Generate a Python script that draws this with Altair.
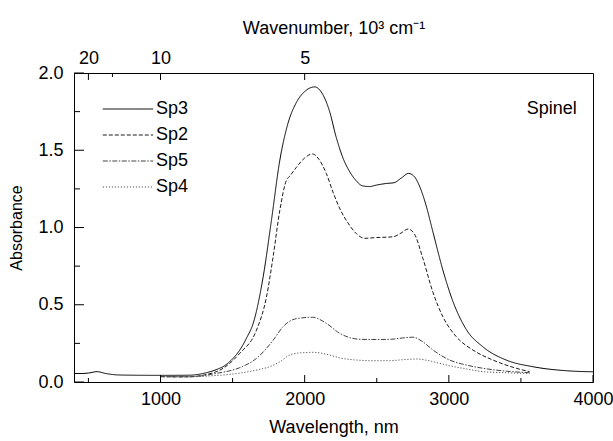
import altair as alt
import pandas as pd

# ---- data ----
sp3_nm = [400, 450, 500, 560, 620, 700, 800, 1000, 1200, 1300, 1400, 1435, 1500, 1550, 1600, 1643,
          1712, 1770, 1828, 1880, 1943, 2000, 2070, 2120, 2170, 2220, 2270, 2313, 2360, 2400, 2450,
          2500, 2567, 2620, 2670, 2720, 2760, 2800, 2840, 2890, 2960, 3029, 3121, 3236, 3398, 3583,
          3814, 4000]
sp3_abs = [0.055, 0.055, 0.058, 0.067, 0.055, 0.046, 0.044, 0.043, 0.044, 0.056, 0.085, 0.10, 0.15,
           0.207, 0.29, 0.38, 0.68, 1.05, 1.437, 1.66, 1.81, 1.88, 1.91, 1.87, 1.76, 1.58, 1.44, 1.36,
           1.30, 1.27, 1.265, 1.275, 1.285, 1.29, 1.32, 1.35, 1.33, 1.26, 1.15, 0.97, 0.72, 0.52,
           0.34, 0.228, 0.142, 0.099, 0.073, 0.066]

sp2_nm = [1000, 1100, 1200, 1300, 1435, 1550, 1666, 1735, 1781, 1828, 1874, 1897, 1943, 2000, 2054,
          2100, 2150, 2200, 2250, 2300, 2359, 2417, 2500, 2613, 2670, 2717, 2760, 2820, 2890, 2960,
          3052, 3167, 3306, 3468, 3560]
sp2_abs = [0.035, 0.033, 0.034, 0.045, 0.089, 0.186, 0.336, 0.55, 0.81, 1.113, 1.307, 1.333, 1.39,
           1.45, 1.476, 1.44, 1.35, 1.22, 1.11, 1.03, 0.96, 0.93, 0.935, 0.94, 0.965, 0.99, 0.96,
           0.80, 0.58, 0.42, 0.293, 0.207, 0.142, 0.089, 0.067]

sp5_nm = [1000, 1200, 1389, 1550, 1666, 1781, 1850, 1943, 2054, 2150, 2243, 2320, 2394, 2500, 2590,
          2680, 2751, 2820, 2890, 3006, 3120, 3236, 3400, 3560]
sp5_abs = [0.035, 0.034, 0.056, 0.093, 0.153, 0.27, 0.358, 0.41, 0.419, 0.38, 0.315, 0.285, 0.276,
           0.275, 0.276, 0.285, 0.29, 0.26, 0.207, 0.142, 0.11, 0.089, 0.07, 0.06]

sp4_nm = [1000, 1200, 1350, 1504, 1600, 1689, 1760, 1828, 1897, 1943, 2058, 2150, 2250, 2359, 2470,
          2590, 2690, 2775, 2850, 2920, 3006, 3120, 3236, 3400, 3560]
sp4_abs = [0.035, 0.034, 0.04, 0.052, 0.065, 0.082, 0.10, 0.131, 0.175, 0.186, 0.192, 0.18, 0.155,
           0.142, 0.138, 0.138, 0.145, 0.149, 0.14, 0.125, 0.105, 0.085, 0.067, 0.06, 0.055]

series_names = ["Sp3", "Sp2", "Sp5", "Sp4"]
series_colors = ["#000000", "#1a1a1a", "#444444", "#555555"]
series_dash = [[1, 0], [4, 2], [5, 1.5, 1.5, 1.5], [1.2, 1.8]]

x_major = [1000, 2000, 3000, 4000]
x_minor = [500, 1500, 2500, 3500]
y_major = [0.0, 0.5, 1.0, 1.5, 2.0]
y_minor = [0.25, 0.75, 1.25, 1.75]
top_major_nm = [500, 1000, 2000]          # 20, 10, 5 x 10^3 cm-1
top_minor_nm = [666.667]                  # 15 x 10^3 cm-1
top_labels = ["20", "10", "5"]

annot_text = ["Spinel"]
annot_x = [3540]
annot_y = [1.767]

# ---- build tables ----
rows = []
for name, xs, ys in [("Sp3", sp3_nm, sp3_abs), ("Sp2", sp2_nm, sp2_abs),
                     ("Sp5", sp5_nm, sp5_abs), ("Sp4", sp4_nm, sp4_abs)]:
    for a, b in zip(xs, ys):
        rows.append({"series": name, "nm": a, "abs": b})
df = pd.DataFrame(rows)

W, H = 519, 309
FONT = "Liberation Sans"

xscale = alt.Scale(domain=[400, 4000], nice=False, zero=False)
yscale = alt.Scale(domain=[0, 2.0], nice=False, zero=True)

legend_opts = dict(title=None, orient="none", legendX=45, legendY=27,
                   symbolType="M-4.2,0H4.2", symbolSize=144, symbolStrokeWidth=1,
                   labelFontSize=18, labelFont=FONT, labelOffset=19,
                   rowPadding=8, padding=0)

lines = alt.Chart(df).mark_line(strokeWidth=1, interpolate="monotone", clip=True).encode(
    x=alt.X("nm:Q", scale=xscale,
            axis=alt.Axis(values=x_major, format="d", ticks=False, domain=False, grid=False,
                          labelFlush=False, labelFontSize=18, labelPadding=8,
                          title="Wavelength, nm", titleFontSize=18, titleFontWeight="normal",
                          titlePadding=10, orient="bottom")),
    y=alt.Y("abs:Q", scale=yscale,
            axis=alt.Axis(values=y_major, format=".1f", ticks=False, domain=False, grid=False,
                          labelFlush=False, labelFontSize=18, labelPadding=11,
                          title="Absorbance", titleFontSize=16, titleFontWeight="normal",
                          titlePadding=13)),
    color=alt.Color("series:N", scale=alt.Scale(domain=series_names, range=series_colors),
                    legend=alt.Legend(**legend_opts)),
    strokeDash=alt.StrokeDash("series:N",
                              scale=alt.Scale(domain=series_names, range=series_dash),
                              legend=alt.Legend(**legend_opts)),
    order=alt.Order("order:Q"),
).transform_calculate(order="indexof(['Sp3','Sp2','Sp5','Sp4'], datum.series)")

bottom_major = alt.Chart(pd.DataFrame({"v": x_major})).mark_rule(color="black", strokeWidth=1).encode(
    x=alt.X("v:Q", scale=xscale, axis=None),
    y=alt.value(H),
    y2=alt.value(H - 7),
)
bottom_minor = alt.Chart(pd.DataFrame({"v": x_minor})).mark_rule(color="black", strokeWidth=1).encode(
    x=alt.X("v:Q", scale=xscale, axis=None),
    y=alt.value(H),
    y2=alt.value(H - 4),
)
left_major = alt.Chart(pd.DataFrame({"v": y_major})).mark_rule(color="black", strokeWidth=1).encode(
    y=alt.Y("v:Q", scale=yscale, axis=None),
    x=alt.value(0),
    x2=alt.value(10),
)
left_minor = alt.Chart(pd.DataFrame({"v": y_minor})).mark_rule(color="black", strokeWidth=1).encode(
    y=alt.Y("v:Q", scale=yscale, axis=None),
    x=alt.value(0),
    x2=alt.value(6),
)
top_df = pd.DataFrame({"v": top_major_nm, "lab": top_labels})
label_expr = " : ".join(
    [f"datum.value == {v} ? '{l}'" for v, l in zip(top_major_nm, top_labels)]) + " : ''"
top_major = alt.Chart(top_df).mark_rule(color="black", strokeWidth=1).encode(
    x=alt.X("v:Q", scale=xscale,
            axis=alt.Axis(orient="top", values=top_major_nm, labelExpr=label_expr, ticks=False,
                          domain=False, grid=False, labelFlush=False, labelFontSize=18,
                          labelPadding=6, title="Wavenumber, 10³ cm⁻¹", titleFontSize=18,
                          titleFontWeight="normal", titlePadding=12)),
    y=alt.value(0),
    y2=alt.value(7),
)
top_minor = alt.Chart(pd.DataFrame({"v": top_minor_nm})).mark_rule(color="black", strokeWidth=1).encode(
    x=alt.X("v:Q", scale=xscale, axis=None),
    y=alt.value(0),
    y2=alt.value(4),
)

annot = alt.Chart(pd.DataFrame({"t": annot_text, "x": annot_x, "y": annot_y})).mark_text(
    align="left", baseline="middle", fontSize=18, font=FONT, color="black"
).encode(
    x=alt.X("x:Q", scale=xscale, axis=None),
    y=alt.Y("y:Q", scale=yscale, axis=None),
    text="t:N",
)

chart = alt.layer(
    lines, bottom_major, bottom_minor, left_major, left_minor, top_major, top_minor, annot
).resolve_axis(x="independent", y="independent").properties(
    width=W, height=H,
    autosize=alt.AutoSizeParams(type="none"),
    padding={"left": 74, "top": 73, "right": 20, "bottom": 59},
).configure(font=FONT).configure_view(
    stroke="black", strokeWidth=1
).configure_axis(
    labelFont=FONT, titleFont=FONT, labelColor="black", titleColor="black"
).configure_legend(labelFont=FONT, labelColor="black")

chart.save("out.html", embed_options={"renderer": "svg", "actions": False})
